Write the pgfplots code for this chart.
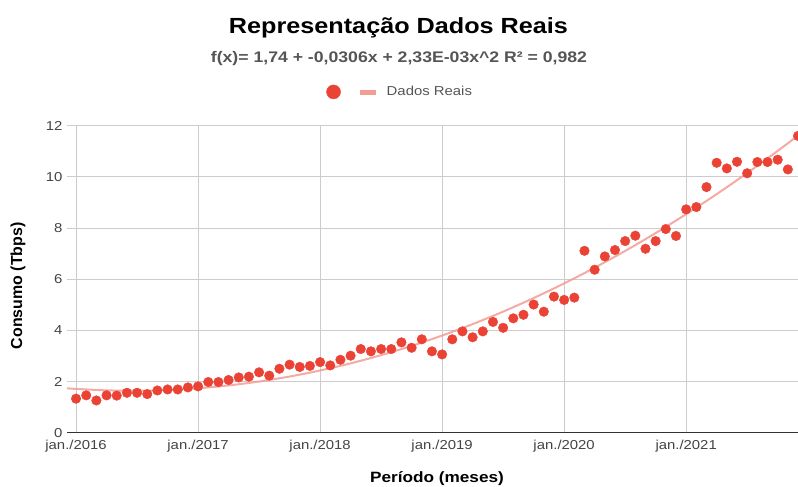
\documentclass[border=0pt]{standalone}
\usepackage{fontspec}
\setmainfont{Liberation Sans}[FakeStretch=1.15]
\newfontfamily\plainsans{Liberation Sans}
\usepackage{pgfplots}
\pgfplotsset{compat=1.18}
\definecolor{ptred}{HTML}{EA4335}
\definecolor{trendc}{HTML}{F29C94}
\definecolor{gridc}{HTML}{CCCCCC}
\definecolor{ticklab}{HTML}{444444}
\definecolor{subc}{HTML}{555555}
\definecolor{basec}{HTML}{333333}

\begin{document}
\begin{tikzpicture}[x=1bp,y=1bp]
\begin{axis}[
  at={(0,0)}, anchor=south west,
  scale only axis, width=731bp, height=307bp,
  xmin=-0.89, xmax=71.0, ymin=0, ymax=12,
  xtick={0,12,24,36,48,60},
  xticklabels={jan./2016,jan./2017,jan./2018,jan./2019,jan./2020,jan./2021},
  ytick={0,2,4,6,8,10,12},
  /pgf/number format/assume math mode=true,
  axis x line=bottom, axis y line=left,
  x axis line style={-, draw=basec, line width=1.2bp},
  y axis line style={draw=none},
  major tick length=0pt,
  grid=major, grid style={gridc, line width=1bp},
  tick label style={font=\fontsize{13}{15}\selectfont, text=ticklab},
  xticklabel style={yshift=-4bp},
  yticklabel style={xshift=-1bp},
  legend style={draw=none, fill=none, at={(axis description cs:0.3545,1.11)}, anchor=west,
    font=\fontsize{13}{15}\selectfont, text=subc, inner sep=0pt},
  legend image code/.code={
    \fill[ptred] (0bp,0bp) circle (7bp);
    \fill[trendc] (27bp,-2bp) rectangle (42bp,2bp);
    \path (51bp,0bp);
  },
  legend cell align=left,
  clip=false,
]
\addplot[only marks, mark=*, mark size=4.8bp, mark options={draw=ptred, fill=ptred}] coordinates {
(0,1.33) (1,1.46) (2,1.26) (3,1.46) (4,1.45) (5,1.56) (6,1.56) (7,1.51) (8,1.65) (9,1.69)
(10,1.69) (11,1.77) (12,1.81) (13,1.98) (14,1.98) (15,2.06) (16,2.16) (17,2.19) (18,2.36) (19,2.23)
(20,2.50) (21,2.66) (22,2.57) (23,2.61) (24,2.76) (25,2.63) (26,2.85) (27,3.01) (28,3.27) (29,3.18)
(30,3.27) (31,3.27) (32,3.53) (33,3.32) (34,3.65) (35,3.18) (36,3.06) (37,3.65) (38,3.96) (39,3.73)
(40,3.96) (41,4.33) (42,4.10) (43,4.47) (44,4.61) (45,5.01) (46,4.73) (47,5.32) (48,5.19) (49,5.28)
(50,7.11) (51,6.37) (52,6.89) (53,7.14) (54,7.49) (55,7.70) (56,7.19) (57,7.49) (58,7.96) (59,7.69)
(60,8.73) (61,8.82) (62,9.60) (63,10.55) (64,10.33) (65,10.59) (66,10.14) (67,10.58) (68,10.58) (69,10.67)
(70,10.29) (71,11.60)
};
\addlegendentry{Dados Reais}
\addplot[trendc, line width=2bp, opacity=0.85, smooth, forget plot] coordinates {
(-0.89,1.737) (0,1.712) (3,1.655) (6,1.640) (9,1.667) (12,1.736) (15,1.847) (18,2.000)
(21,2.195) (24,2.431) (27,2.710) (30,3.031) (33,3.393) (36,3.798) (39,4.244) (42,4.732)
(45,5.263) (48,5.835) (51,6.449) (54,7.105) (57,7.803) (60,8.543) (63,9.325) (66,10.149)
(69,11.015) (71,11.616)
};
\end{axis}
\node[font=\bfseries\fontsize{22}{26}\selectfont, text=black] at (331.5,404.7) {Representação Dados Reais};
\node[font=\bfseries\fontsize{15.4}{18}\selectfont, text=subc] at (332,374.5) {f(x)= 1,74 + -0,0306x + 2,33E-03x\^{}2 R² = 0,982};
\node[font=\bfseries\fontsize{15}{18}\selectfont, text=black] at (370,-45.5) {Período (meses)};
\node[font=\plainsans\bfseries\fontsize{16}{19}\selectfont, text=black, rotate=90] at (-49,147) {Consumo (Tbps)};
\pgfresetboundingbox
\useasboundingbox (-67,-54.3) rectangle (731,432.7);
\end{tikzpicture}
\end{document}
